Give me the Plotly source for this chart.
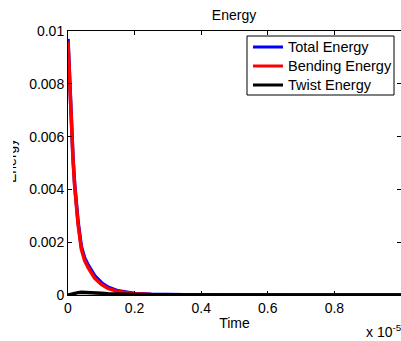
import plotly.graph_objects as go

time = [0, 0.005, 0.01, 0.015, 0.02, 0.03, 0.04, 0.05, 0.06, 0.07, 0.08, 0.1,
        0.12, 0.15, 0.2, 0.25, 0.3, 0.4, 0.5, 0.6, 0.7, 0.8, 0.9, 1.0]
total_energy = [0.0097, 0.0079, 0.0064, 0.0052, 0.0042, 0.0028, 0.00184, 0.0014,
                0.00115, 0.00092, 0.00073, 0.00047, 0.0003, 0.00016, 0.00006,
                0.000025, 0.00001, 0.000004, 0.000002, 0.000001, 0.000001,
                0.0, 0.0, 0.0]
bending_energy = [0.0096, 0.00788, 0.00636, 0.00514, 0.00413, 0.00271, 0.00174,
                  0.0013, 0.00105, 0.000825, 0.00064, 0.0004, 0.00025, 0.00013,
                  0.000045, 0.000017, 0.000006, 0.000002, 0.000001, 0.0, 0.0,
                  0.0, 0.0, 0.0]
twist_energy = [0.0, 0.00002, 0.00004, 0.00006, 0.00007, 0.00009, 0.0001, 0.0001,
                0.0001, 0.000095, 0.00009, 0.00007, 0.00005, 0.00003, 0.000015,
                0.000008, 0.000004, 0.000002, 0.000001, 0.0, 0.0, 0.0, 0.0, 0.0]

series_names = ["Total Energy", "Bending Energy", "Twist Energy"]
series_colors = ["#0000ff", "#ff0000", "#000000"]

x_ticks = [0, 0.2, 0.4, 0.6, 0.8, 1.0]
x_tick_labels = ["0", "0.2", "0.4", "0.6", "0.8", "1"]
y_ticks = [0, 0.002, 0.004, 0.006, 0.008, 0.01]
y_tick_labels = ["0", "0.002", "0.004", "0.006", "0.008", "0.01"]

FONT = "Liberation Sans, Arial, sans-serif"
W, H = 401, 341
L, R, T, B = 68, 0, 31, 46
pw = W - L - R
ph = H - T - B


def px(xp):
    return (xp - L) / pw


def py(yp):
    return (H - B - yp) / ph


fig = go.Figure()
for name, vals, col in zip(series_names, [total_energy, bending_energy, twist_energy],
                           series_colors):
    fig.add_trace(go.Scatter(x=time, y=vals, mode="lines", name=name,
                             line=dict(color=col, width=3.5), showlegend=False,
                             hoverinfo="skip"))

axis_common = dict(showline=True, linecolor="black", linewidth=1, mirror="ticks",
                   ticks="inside", ticklen=4, tickcolor="black", showgrid=False,
                   zeroline=False, tickfont=dict(family=FONT, size=14, color="black"))

fig.update_layout(
    width=W, height=H,
    margin=dict(l=L, r=R, t=T, b=B),
    paper_bgcolor="white", plot_bgcolor="white",
    font=dict(family=FONT, size=14, color="black"),
    title=dict(text="Energy", x=(L + 166) / W, xanchor="center",
               y=1 - 15 / H, yanchor="middle",
               font=dict(family=FONT, size=14, color="black")),
    xaxis=dict(range=[0, 1], tickvals=x_ticks, ticktext=x_tick_labels,
               title=dict(text="Time", font=dict(family=FONT, size=14), standoff=3),
               **axis_common),
    yaxis=dict(range=[0, 0.01], tickvals=y_ticks, ticktext=y_tick_labels,
               **axis_common),
    showlegend=False,
    hovermode=False,
)

# legend box drawn by hand (MATLAB style)
fig.add_shape(type="rect", xref="paper", yref="paper", x0=px(247), x1=px(394),
              y0=py(95), y1=py(36), line=dict(color="black", width=1),
              fillcolor="white", layer="above")
for i, (name, col) in enumerate(zip(series_names, series_colors)):
    yy = 47 + 19 * i
    fig.add_shape(type="line", xref="paper", yref="paper", x0=px(253), x1=px(283),
                  y0=py(yy), y1=py(yy), line=dict(color=col, width=3), layer="above")
    fig.add_annotation(text=name, xref="paper", yref="paper", x=px(286), y=py(yy),
                       xanchor="left", yanchor="middle", showarrow=False,
                       font=dict(family=FONT, size=14.5, color="black"))

# y-axis title, partly cut at the left edge as in the reference
fig.add_annotation(text="Energy", textangle=-90, xref="paper", yref="paper",
                   x=px(11), y=py(161), xanchor="center", yanchor="middle",
                   showarrow=False, font=dict(family=FONT, size=14, color="black"))
fig.add_annotation(text="\u2588", xref="paper", yref="paper", x=px(0), y=py(125),
                   xanchor="left", yanchor="top", width=13, height=75,
                   bgcolor="white", borderpad=0, borderwidth=0, showarrow=False,
                   font=dict(family=FONT, size=14, color="white"))
fig.add_annotation(text="x 10<sup>-5</sup>", xref="paper", yref="paper",
                   x=px(364), y=py(331), xanchor="left", yanchor="middle",
                   showarrow=False, font=dict(family=FONT, size=14, color="black"))

fig.write_html("out.html", config={"displayModeBar": False, "staticPlot": True},
               post_script="document.body.style.margin='0';")
